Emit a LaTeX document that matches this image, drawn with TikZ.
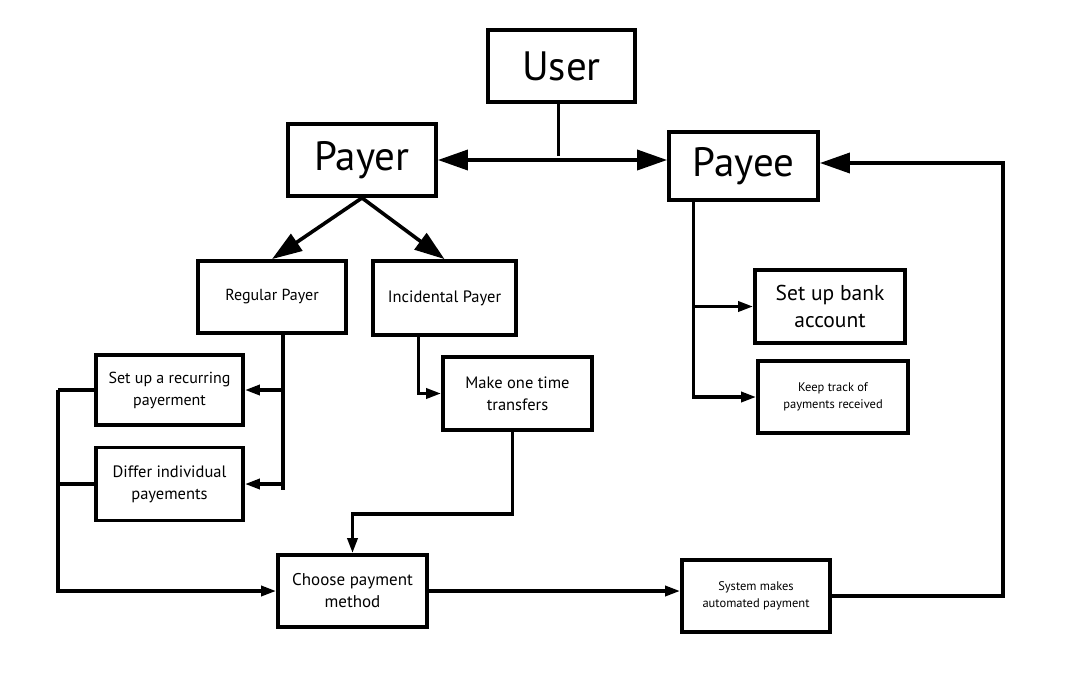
\documentclass[tikz,border=0pt]{standalone}
\usepackage{fontspec}
\setmainfont{PT Sans}
\usepackage{tikz}
\usetikzlibrary{arrows.meta, positioning}

\begin{document}
\begin{tikzpicture}[
    x=1pt, y=-1pt,
    box/.style={rectangle, draw, line width=3.8pt, minimum width=148pt, minimum height=72pt, align=center, inner sep=2pt},
    bigbox/.style={box, font=\fontsize{41}{46}\selectfont},
    arrow/.style={-{Triangle[length=15pt, width=10pt]}, line width=3.4pt},
    bigarrow/.style={-{Triangle[length=30pt, width=20pt]}, line width=3.6pt},
    line/.style={line width=3.4pt}
]
\useasboundingbox (0,0) rectangle (1065,683);

% Top: user and its two roles
\node[bigbox, minimum width=147pt] (user) at (561.5,66) {User};
\node[bigbox] (payer) at (362,160) {Payer};
\node[bigbox, minimum width=149pt, minimum height=68pt] (payee) at (743.5,166) {Payee};

% Payer side
\node[box, font=\fontsize{16}{21}\selectfont] (regular) at (272,297) {Regular Payer};
\node[box, minimum width=143pt, minimum height=74pt, font=\fontsize{16.5}{21}\selectfont] (incidental) at (444.5,298) {Incidental Payer};
\node[box, minimum width=147pt, minimum height=70pt, font=\fontsize{16}{22}\selectfont] (recurring) at (169.5,390) {Set up a recurring\\payerment};
\node[box, minimum width=147pt, minimum height=73pt, font=\fontsize{16.5}{22}\selectfont] (differ) at (169.5,484) {Differ individual\\payements};
\node[box, minimum width=149pt, minimum height=73pt, font=\fontsize{16.5}{22}\selectfont] (onetime) at (517.5,393.5) {Make one time\\transfers};

% Payee side
\node[box, minimum width=150pt, minimum height=73pt, font=\fontsize{21.5}{27}\selectfont] (bank) at (830,306.5) {Set up bank\\account};
\node[box, minimum width=150pt, font=\fontsize{12.5}{17}\selectfont] (track) at (833,397) {Keep track of\\payments received};

% Bottom row
\node[box, minimum width=149pt, font=\fontsize{17}{22}\selectfont] (choose) at (352.5,591) {Choose payment\\method};
\node[box, font=\fontsize{12.5}{17}\selectfont] (system) at (756,596) {System makes\\automated payment};

% Junctions
\coordinate (split) at (user.south |- payer.east);
\coordinate (rbus) at ([xshift=11pt]regular.south);
\coordinate (lbus) at (58,390);
\coordinate (pbus) at ([xshift=-50pt]payee.south);
\coordinate (loop) at (1003,163);

% Arrows
\draw[line] ([xshift=-3pt]user.south) -- ([xshift=-3pt,yshift=4pt]split);
\draw[bigarrow] (split) -- (payer.east);
\draw[bigarrow] (split) -- (split -| payee.west);
\draw[bigarrow] (payer.south) -- (regular.north);
\draw[bigarrow] (payer.south) -- (incidental.north);

\draw[line] (rbus) -- ++(0,155);
\draw[arrow] (rbus |- recurring.east) -- (recurring.east);
\draw[arrow] (rbus |- differ.east) -- (differ.east);
\draw[arrow] ([xshift=-26pt]incidental.south) |- (onetime.west);
\draw[arrow] ([xshift=-5pt]onetime.south) -- ++(0,82) -| (choose.north);

\draw[line] (recurring.west) -- (recurring.west -| lbus);
\draw[line] (differ.west) -- (differ.west -| lbus);
\draw[arrow] (recurring.west -| lbus) |- (choose.west);
\draw[arrow] (choose.east) -- (choose.east -| system.west);

\draw[line] (pbus) -- ++(0,197);
\draw[arrow] (pbus |- bank.west) -- (bank.west);
\draw[arrow] (pbus |- track.west) -- (track.west);

\draw[line] ([yshift=-5pt]loop) -- (loop);
\draw[bigarrow] (system.east) -| (loop) -- (loop -| payee.east);

\end{tikzpicture}
\end{document}
